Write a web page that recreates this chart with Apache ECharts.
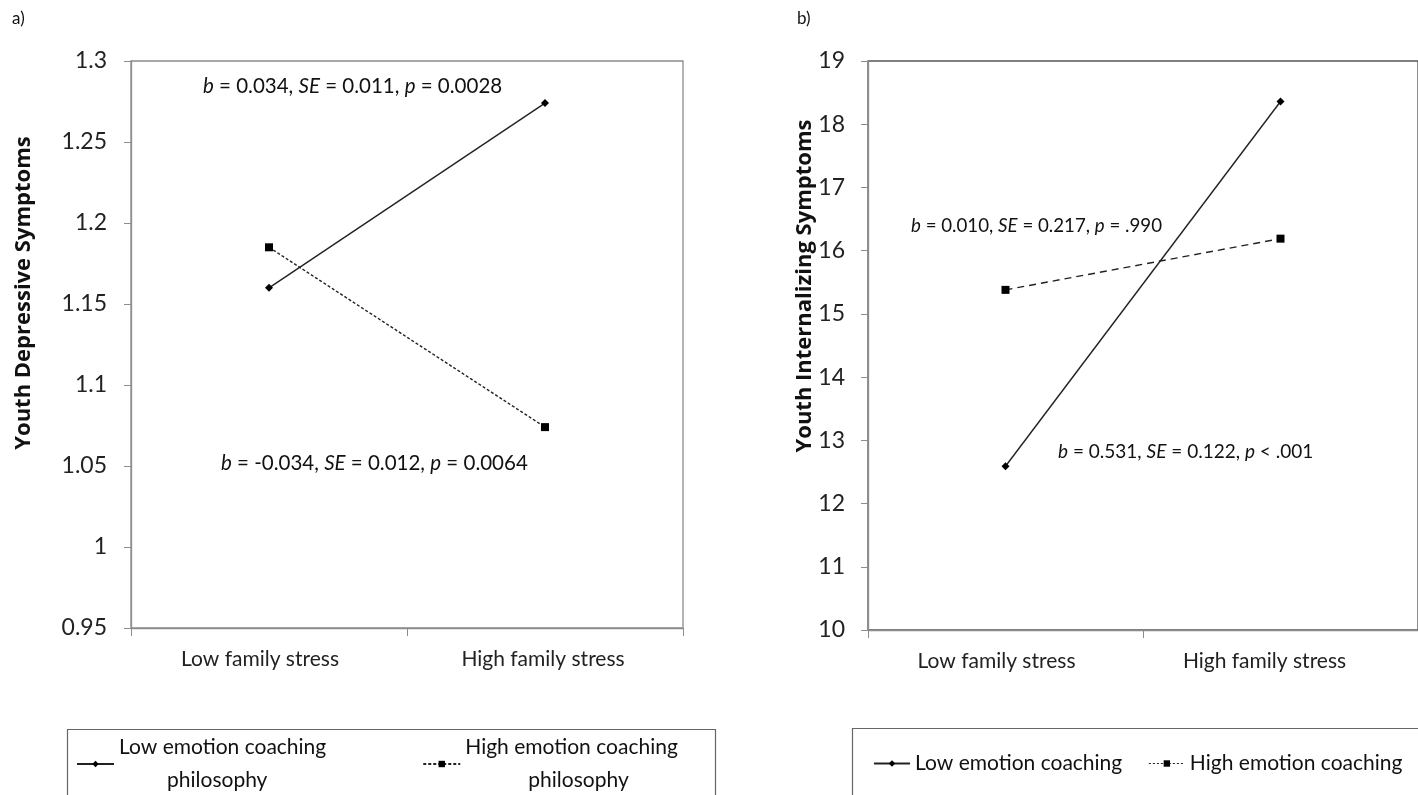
<!DOCTYPE html>
<html lang="en">
<head>
<meta charset="UTF-8">
<title>Family stress x emotion coaching</title>
<script src="https://cdn.jsdelivr.net/npm/echarts@6/dist/echarts.min.js"></script>
<style>
	html,body{margin:0;padding:0;background:#fff;}
	#app{width:1418px;height:795px;}
</style>
</head>
<body>
<div id="app"></div>
<script>
// categories
var stressLevels = ["Low family stress", "High family stress"];
// panel a) youth depressive symptoms
var depLowCoaching = [1.16, 1.274];
var depHighCoaching = [1.185, 1.074];
var depTicks = [0.95, 1.3, 0.05];
// panel b) youth internalizing symptoms
var intLowCoaching = [12.59, 18.36];
var intHighCoaching = [15.38, 16.19];
var intTicks = [10, 19, 1];

var FONT = "Lato";
var axisGray = "#8c8c8c";

function yAxisOf(idx, ticks, margin){
	return {
		type: "value", gridIndex: idx,
		min: ticks[0], max: ticks[1], interval: ticks[2],
		axisLine: {show: true, lineStyle: {color: axisGray, width: 1.3}},
		axisTick: {show: true, length: 7, lineStyle: {color: axisGray}},
		axisLabel: {fontFamily: FONT, fontSize: 23, color: "#222", margin: margin,
			formatter: function(v){ return String(parseFloat(v.toFixed(2))); }},
		splitLine: {show: false}
	};
}
// the labels sit a little left of the category centre in the original
function xAxisOf(idx, shifts){
	return {
		type: "category", gridIndex: idx, data: stressLevels, boundaryGap: true,
		axisLine: {lineStyle: {color: axisGray, width: 1.3}},
		axisTick: {show: true, length: 8, lineStyle: {color: axisGray}},
		axisLabel: {fontFamily: FONT, fontSize: 21, color: "#222", margin: 21,
			formatter: function(v, i){ return "{s" + i + "|" + v + "}"; },
			rich: {
				s0: {fontFamily: FONT, fontSize: 21, color: "#222", padding: [0, shifts[0] * 2, 0, 0]},
				s1: {fontFamily: FONT, fontSize: 21, color: "#222", padding: [0, shifts[1] * 2, 0, 0]}
			}}
	};
}
function seriesOf(name, idx, data, symbol, size, dash){
	return {
		name: name, type: "line", xAxisIndex: idx, yAxisIndex: idx, data: data,
		symbol: symbol, symbolSize: size, showSymbol: true,
		itemStyle: {color: "#000"},
		lineStyle: {color: "#222", width: 1.4, type: dash},
		emphasis: {disabled: true}, animation: false
	};
}
function stat(b, se, p){
	return "{i|b} = " + b + ", {i|SE} = " + se + ", {i|p} " + p;
}
function note(x, y, size, txt){
	return {
		type: "text", x: x, y: y,
		style: {text: txt, fill: "#111", font: size + "px " + FONT, verticalAlign: "middle",
			rich: {i: {fontStyle: "italic", fontSize: size, fontFamily: FONT, fill: "#111"}}}
	};
}
function yTitle(x, y, txt){
	return {
		type: "text", x: x, y: y, rotation: Math.PI / 2,
		style: {text: txt, fill: "#111", font: "bold 22px 'Open Sans'", align: "center", verticalAlign: "middle"}
	};
}

var myChart = echarts.init(document.getElementById("app"));
var option = {
	backgroundColor: "#fff",
	animation: false,
	grid: [
		{left: 131, top: 61, width: 552, height: 567, show: true, borderColor: axisGray, borderWidth: 1.3},
		{left: 868, top: 61, width: 550, height: 569, show: true, borderColor: "#555", borderWidth: 1.3}
	],
	xAxis: [xAxisOf(0, [9, 2]), xAxisOf(1, [9, 16])],
	yAxis: [yAxisOf(0, depTicks, 24), yAxisOf(1, intTicks, 23)],
	legend: [
		{
			data: ["Low emotion coaching philosophy", "High emotion coaching philosophy"],
			left: 71, top: 732, itemGap: 96, itemWidth: 37, itemHeight: 8,
			formatter: function(n){
				var pad = n.indexOf("Low") === 0 ? "b" : "c";
				return "{a|" + n.replace(" philosophy", "") + "}\n{" + pad + "|philosophy}";
			},
			textStyle: {fontFamily: FONT, fontSize: 21, color: "#111",
				rich: {a: {fontFamily: FONT, fontSize: 21, lineHeight: 33},
					b: {fontFamily: FONT, fontSize: 21, lineHeight: 33, padding: [0, 0, 0, 48]},
					c: {fontFamily: FONT, fontSize: 21, lineHeight: 33, padding: [0, 0, 0, 63]}}}
		},
		{
			data: [
				"Low emotion coaching",
				{name: "High emotion coaching", lineStyle: {type: [2, 2], width: 1.2}}
			],
			left: 868, top: 748, itemGap: 26, itemWidth: 36, itemHeight: 8,
			textStyle: {fontFamily: FONT, fontSize: 21, color: "#111"}
		}
	],
	series: [
		seriesOf("Low emotion coaching philosophy", 0, depLowCoaching, "diamond", 8, "solid"),
		seriesOf("High emotion coaching philosophy", 0, depHighCoaching, "rect", 8, [3, 2]),
		seriesOf("Low emotion coaching", 1, intLowCoaching, "diamond", 8, "solid"),
		seriesOf("High emotion coaching", 1, intHighCoaching, "rect", 8, [7, 5])
	],
	graphic: [
		{type: "text", left: 12, top: 10, style: {text: "a)", font: "17px " + FONT, fill: "#111"}},
		{type: "text", left: 797, top: 10, style: {text: "b)", font: "17px " + FONT, fill: "#111"}},
		yTitle(24, 293, "Youth Depressive Symptoms"),
		yTitle(805, 286, "Youth Internalizing Symptoms"),
		note(203, 86, 20.5, stat("0.034", "0.011", "= 0.0028")),
		note(221, 463, 20.5, stat("-0.034", "0.012", "= 0.0064")),
		note(911, 226, 18.7, stat("0.010", "0.217", "= .990")),
		note(1058, 452, 19, stat("0.531", "0.122", "< .001")),
		{type: "rect", left: 65, top: 727, shape: {width: 648, height: 80},
			style: {fill: "none", stroke: "#666", lineWidth: 1.2}, z: -1},
		{type: "rect", left: 850, top: 726, shape: {width: 580, height: 80},
			style: {fill: "none", stroke: "#666", lineWidth: 1.2}, z: -1}
	]
};
myChart.setOption(option);
</script>
</body>
</html>
